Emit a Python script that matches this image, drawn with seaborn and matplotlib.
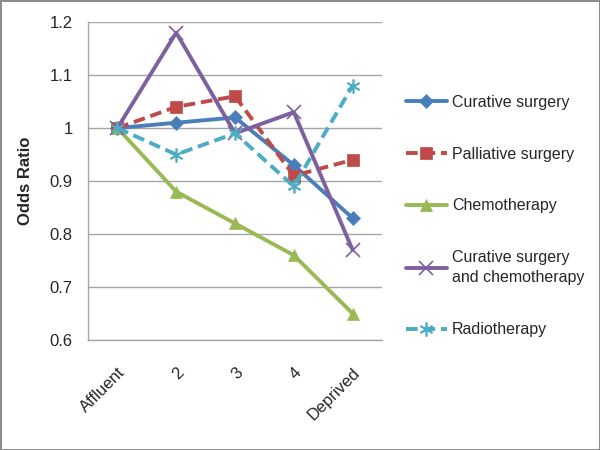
import matplotlib
matplotlib.use("Agg")
import matplotlib.pyplot as plt
import seaborn as sns
import pandas as pd

categories = ["Affluent", "2", "3", "4", "Deprived"]
curative_surgery = [1.00, 1.01, 1.02, 0.93, 0.83]
palliative_surgery = [1.00, 1.04, 1.06, 0.91, 0.94]
chemotherapy = [1.00, 0.88, 0.82, 0.76, 0.65]
curative_chemo = [1.00, 1.18, 0.99, 1.03, 0.77]
radiotherapy = [1.00, 0.95, 0.99, 0.89, 1.08]
series_names = ["Curative surgery", "Palliative surgery", "Chemotherapy",
                "Curative surgery\nand chemotherapy", "Radiotherapy"]
series_values = [curative_surgery, palliative_surgery, chemotherapy, curative_chemo, radiotherapy]
y_ticks = [0.6, 0.7, 0.8, 0.9, 1.0, 1.1, 1.2]
y_tick_labels = ["0.6", "0.7", "0.8", "0.9", "1", "1.1", "1.2"]

colors = ["#4A7EBB", "#BE4B48", "#98B954", "#7D60A0", "#4BACC6"]
markers = ["D", "s", "^", "x", (6, 2, 0)]
msizes = [7, 9, 9, 10, 10]
dashes = [False, True, False, False, True]

sns.set_theme(style="white")
plt.rcParams['font.family'] = ['Liberation Sans', 'DejaVu Sans']

fig = plt.figure(figsize=(6, 4.5), dpi=100)
fig.patch.set_edgecolor("#8C8C8C")
fig.patch.set_linewidth(2)
ax = fig.add_axes([0.1467, 0.2444, 0.49, 0.7066])

rows = []
for name, vals in zip(series_names, series_values):
    for c, v in zip(categories, vals):
        rows.append({"cat": c, "val": v, "series": name})
df = pd.DataFrame(rows)

for i, name in enumerate(series_names):
    sub = df[df["series"] == name]
    sns.lineplot(data=sub, x="cat", y="val", ax=ax, color=colors[i], lw=2.8,
                 marker=markers[i], markersize=msizes[i], markeredgecolor=colors[i],
                 markeredgewidth=1.2 if markers[i] in ("x", (6, 2, 0)) else 0.5,
                 linestyle=(0, (3, 1.5)) if dashes[i] else "-", label=name, sort=False)

ax.set_xlim(-0.5, 4.5)
ax.set_ylim(0.6, 1.2)
ax.set_yticks(y_ticks)
ax.set_yticklabels(y_tick_labels, fontsize=12)
ax.yaxis.grid(True, color="#A6A6A6", lw=1)
ax.set_axisbelow(True)
ax.set_xlabel("")
ax.set_ylabel("Odds Ratio", fontsize=12, fontweight="bold", labelpad=12)
ax.set_xticks(range(len(categories)))
ax.set_xticklabels(categories, rotation=45, ha="right", rotation_mode="anchor", fontsize=12)
for sp in ["top", "right"]:
    ax.spines[sp].set_visible(False)
for sp in ["left", "bottom"]:
    ax.spines[sp].set_color("#A6A6A6")
    ax.spines[sp].set_linewidth(1)
ax.tick_params(axis="y", length=0, pad=11)
ax.tick_params(axis="x", length=0, pad=18)

leg = ax.legend(loc="center left", bbox_to_anchor=(1.08, 0.39), frameon=False,
                fontsize=11.5, handlelength=2.6, labelspacing=2.3, handletextpad=0.3,
                borderaxespad=0, borderpad=0)
for t in leg.get_texts():
    t.set_linespacing(1.45)

fig.savefig("out.png", dpi=100, edgecolor=fig.get_edgecolor())
